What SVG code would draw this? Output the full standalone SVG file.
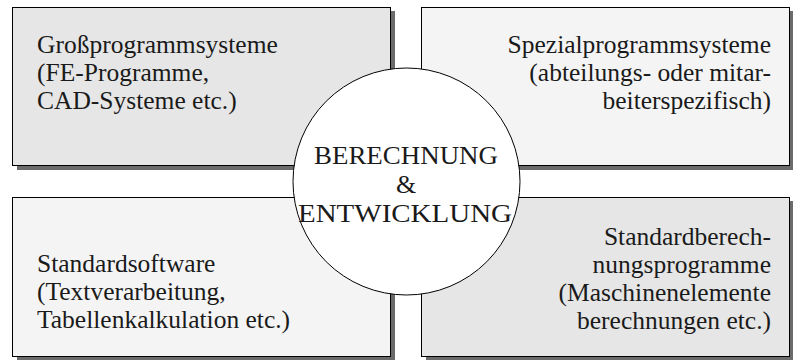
<svg xmlns="http://www.w3.org/2000/svg" width="793" height="360" viewBox="0 0 793 360">
  <style>
    .shadow { fill: #6b6b6b; }
    .box { stroke: #000; stroke-width: 1; }
    .dark { fill: #e6e6e6; }
    .light { fill: #f4f4f4; }
    text { font-family: "Liberation Serif", "Times New Roman", serif; font-size: 25.5px; fill: #1a1a1a; }
    .r { text-anchor: end; }
    .c { text-anchor: middle; font-size: 26px; }
  </style>
  <rect width="793" height="360" fill="#fff"/>

  <g id="grossprogrammsysteme">
    <rect class="shadow" x="17" y="11" width="378" height="159"/>
    <rect class="box dark" x="12.5" y="7.5" width="378" height="158"/>
    <text x="37" y="53">Großprogrammsysteme</text>
    <text x="37" y="81">(FE-Programme,</text>
    <text x="37" y="109">CAD-Systeme etc.)</text>
  </g>

  <g id="spezialprogrammsysteme">
    <rect class="shadow" x="426" y="11" width="367" height="159"/>
    <rect class="box light" x="421.5" y="7.5" width="368" height="158"/>
    <text class="r" x="771" y="53">Spezialprogrammsysteme</text>
    <text class="r" x="771" y="81">(abteilungs- oder mitar-</text>
    <text class="r" x="771" y="109">beiterspezifisch)</text>
  </g>

  <g id="standardsoftware">
    <rect class="shadow" x="17" y="201" width="378" height="160"/>
    <rect class="box light" x="12.5" y="197.5" width="378" height="159"/>
    <text x="37" y="272">Standardsoftware</text>
    <text x="37" y="300">(Textverarbeitung,</text>
    <text x="37" y="328">Tabellenkalkulation etc.)</text>
  </g>

  <g id="standardberechnungsprogramme">
    <rect class="shadow" x="426" y="201" width="367" height="160"/>
    <rect class="box dark" x="421.5" y="197.5" width="368" height="159"/>
    <text class="r" x="771" y="245">Standardberech-</text>
    <text class="r" x="771" y="273">nungsprogramme</text>
    <text class="r" x="771" y="301">(Maschinenelemente</text>
    <text class="r" x="771" y="329">berechnungen etc.)</text>
  </g>

  <g id="berechnung-entwicklung">
    <circle cx="406.5" cy="181.5" r="113.5" fill="#fff" stroke="#000" stroke-width="1"/>
    <text class="c" x="406" y="164" textLength="184" lengthAdjust="spacingAndGlyphs">BERECHNUNG</text>
    <text class="c" x="406" y="193">&amp;</text>
    <text class="c" x="405" y="222" textLength="214" lengthAdjust="spacingAndGlyphs">ENTWICKLUNG</text>
  </g>

  <g id="connectors"/>
</svg>
